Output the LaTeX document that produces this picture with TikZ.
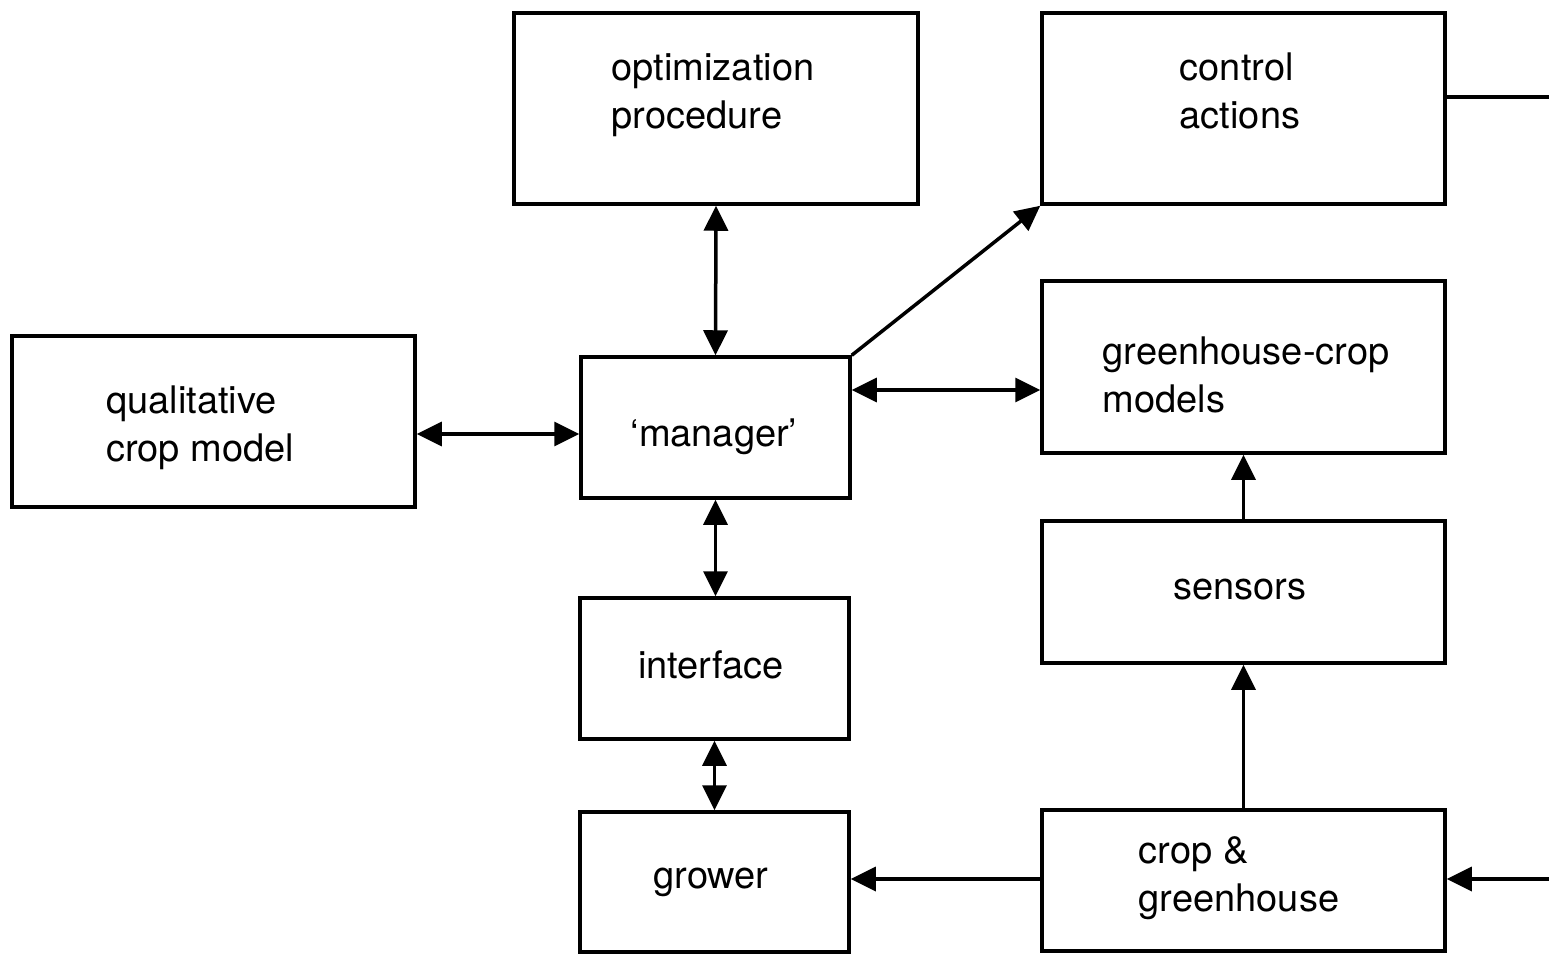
\documentclass[tikz,border=0pt]{standalone}
\usepackage{fontspec}
\setmainfont{TeX Gyre Heros}
\usetikzlibrary{arrows.meta,calc}
\begin{document}
\begin{tikzpicture}[x=1pt,y=-1pt,
  box/.style={draw=black,line width=3.5pt,inner sep=0pt,fill=white},
  txt/.style={align=left,inner sep=0pt,font=\fontsize{38}{48}\selectfont},
  conn/.style={line width=3.5pt},
  tip/.style={-{Triangle[length=25pt,width=24pt]}},
  both/.style={{Triangle[length=25pt,width=24pt]}-{Triangle[length=25pt,width=24pt]}}]
\useasboundingbox[fill=white] (0,0) rectangle (1549,954);

% boxes
\node[box,minimum width=404pt,minimum height=191pt] (opt)  at (716,108.5) {};
\node[box,minimum width=403pt,minimum height=191pt] (ctrl) at (1243.5,108.5) {};
\node[box,minimum width=403pt,minimum height=171pt] (qual) at (213.5,421.5) {};
\node[box,minimum width=269pt,minimum height=141pt] (mgr)  at (715.5,427.5) {};
\node[box,minimum width=403pt,minimum height=172pt] (ghc)  at (1243.5,367) {};
\node[box,minimum width=269pt,minimum height=141pt] (intf) at (714.5,668.5) {};
\node[box,minimum width=403pt,minimum height=142pt] (sens) at (1243.5,592) {};
\node[box,minimum width=269pt,minimum height=140pt] (grow) at (714.5,882) {};
\node[box,minimum width=403pt,minimum height=141pt] (crop) at (1243.5,880.5) {};

% labels
\node[txt] at (713,95)    {optimization\\procedure};
\node[txt] at (1240,91)   {control\\actions};
\node[txt] at (200,428)   {qualitative\\crop model};
\node[txt] at (714,437)   {‘manager’};
\node[txt] at (1246,375)  {greenhouse-crop\\models};
\node[txt] at (711,665)   {interface};
\node[txt] at (1240,590)  {sensors};
\node[txt] at (711,882)   {grower};
\node[txt] at (1239,878)  {crop \&\\greenhouse};

% free ends at the right border
\coordinate (outR) at (1549,97);
\coordinate (inR)  at (1549,879);

% connectors
\draw[conn,both] (opt.south) -- (mgr.north);
\draw[conn,tip] (mgr.north east) -- (ctrl.south west);
\draw[conn,both] ([yshift=37.5pt]mgr.east) -- ([yshift=37.5pt]mgr.east -| ghc.west);
\draw[conn,both] ([yshift=-12.5pt]qual.east) -- ([yshift=-12.5pt]qual.east -| mgr.west);
\draw[conn,both] (mgr.south) -- (mgr.south |- intf.north);
\draw[conn,both] (intf.south) -- (intf.south |- grow.north);
\draw[conn,tip] (sens.north) -- (ghc.south);
\draw[conn,tip] (crop.north) -- (sens.south);
\draw[conn,tip] ([yshift=1.5pt]crop.west) -- ([yshift=1.5pt]crop.west -| grow.east);
\draw[conn] ([yshift=11.5pt]ctrl.east) -- (ctrl.east |- outR) -- (outR);
\draw[conn,tip] (inR) -- (inR -| crop.east);
\end{tikzpicture}
\end{document}
